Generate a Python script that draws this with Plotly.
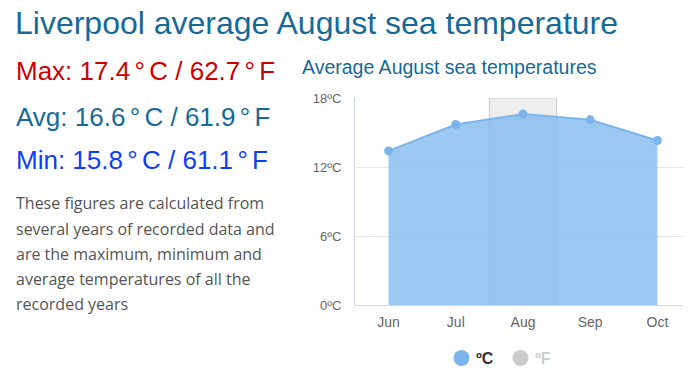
import plotly.graph_objects as go

months = ["Jun", "Jul", "Aug", "Sep", "Oct"]
temps_c = [13.4, 15.7, 16.6, 16.1, 14.3]
y_ticks = [0, 6, 12, 18]
highlight_month = "Aug"

title = "Liverpool average August sea temperature"
chart_title = "Average August sea temperatures"
sp = "\u2006"
stats = [
    (f"Max: 17.4{sp}°{sp}C / 62.7{sp}°{sp}F", "#cc0000"),
    (f"Avg: 16.6{sp}°{sp}C / 61.9{sp}°{sp}F", "#166a98"),
    (f"Min: 15.8{sp}°{sp}C / 61.1{sp}°{sp}F", "#0f3df5"),
]
para_lines = [
    "These figures are calculated from",
    "several years of recorded data and",
    "are the maximum, minimum and",
    "average temperatures of all the",
    "recorded years",
]

OFF = 8  # page body margin
W, H = 691 - OFF, 383 - OFF
L, R, T, B = 355, 691, 98, 305  # page coords of plot area


def px(x):
    return (x - L) / (R - L)


def py(y):
    return (B - y) / (B - T)


fig = go.Figure()
fig.add_trace(go.Scatter(
    x=months, y=temps_c, mode="lines+markers", fill="tozeroy",
    fillcolor="rgba(124,181,236,0.75)",
    line=dict(color="#7cb5ec", width=2),
    marker=dict(size=9, color="#7cb5ec"),
    showlegend=False, hoverinfo="skip",
))

hi = months.index(highlight_month)
fig.add_shape(type="rect", xref="x", yref="y", x0=hi - 0.5, x1=hi + 0.5,
              y0=0, y1=max(y_ticks), fillcolor="#eeeeee",
              line=dict(color="#cccccc", width=1), layer="below")

ann = []
ann.append(dict(text=title, x=px(14), y=py(23), xanchor="left", yanchor="middle",
                borderpad=0,
                font=dict(family="Liberation Sans", size=32, color="#166a98")))
for (t, c), yy in zip(stats, [71, 117, 160]):
    ann.append(dict(text=t, x=px(14), y=py(yy), xanchor="left", yanchor="middle",
                    font=dict(family="Liberation Sans", size=26, color=c)))
for t, yy in zip(para_lines, [203, 229, 254, 279, 304]):
    ann.append(dict(text=t, x=px(14), y=py(yy), xanchor="left", yanchor="middle",
                    font=dict(family="Open Sans", size=16, color="#555555")))
ann.append(dict(text=chart_title, x=px(300), y=py(67), xanchor="left", yanchor="middle",
                font=dict(family="Liberation Sans", size=19.5, color="#166a98")))
# legend
ann.append(dict(text="<b>ºC</b>", x=px(474), y=py(358), xanchor="left", yanchor="middle",
                font=dict(family="Liberation Sans", size=16, color="#333333")))
ann.append(dict(text="<b>ºF</b>", x=px(533), y=py(358), xanchor="left", yanchor="middle",
                font=dict(family="Liberation Sans", size=16, color="#cccccc")))
for a in ann:
    a.update(xref="paper", yref="paper", showarrow=False)

for cx, col in [(461.5, "#7cb5ec"), (520.5, "#cccccc")]:
    fig.add_shape(type="circle", xref="paper", yref="paper",
                  x0=px(cx - 8), x1=px(cx + 8), y0=py(358 + 8), y1=py(358 - 8),
                  fillcolor=col, line=dict(width=0))

fig.update_layout(
    width=W, height=H,
    margin=dict(l=L - OFF, r=W - (R - OFF), t=T - OFF, b=H - (B - OFF)),
    paper_bgcolor="white", plot_bgcolor="white",
    annotations=ann,
    showlegend=False,
    font=dict(family="Liberation Sans"),
)
fig.update_xaxes(
    range=[-0.5, len(months) - 0.5], showgrid=False,
    showline=True, linecolor="#ccd6eb", linewidth=1,
    tickfont=dict(size=14, color="#666666"), ticks="",
    ticklabelstandoff=4, fixedrange=True,
)
fig.update_yaxes(
    range=[0, 18], tickvals=y_ticks, ticktext=[f"{v}ºC" for v in y_ticks],
    showgrid=True, gridcolor="#e6e6e6", gridwidth=1,
    showline=True, linecolor="#ccd6eb", linewidth=1, zeroline=False,
    tickfont=dict(size=13, color="#666666"), ticks="",
    ticklabelstandoff=10, fixedrange=True,
)

fig.write_html("out.html", config={"displayModeBar": False})
